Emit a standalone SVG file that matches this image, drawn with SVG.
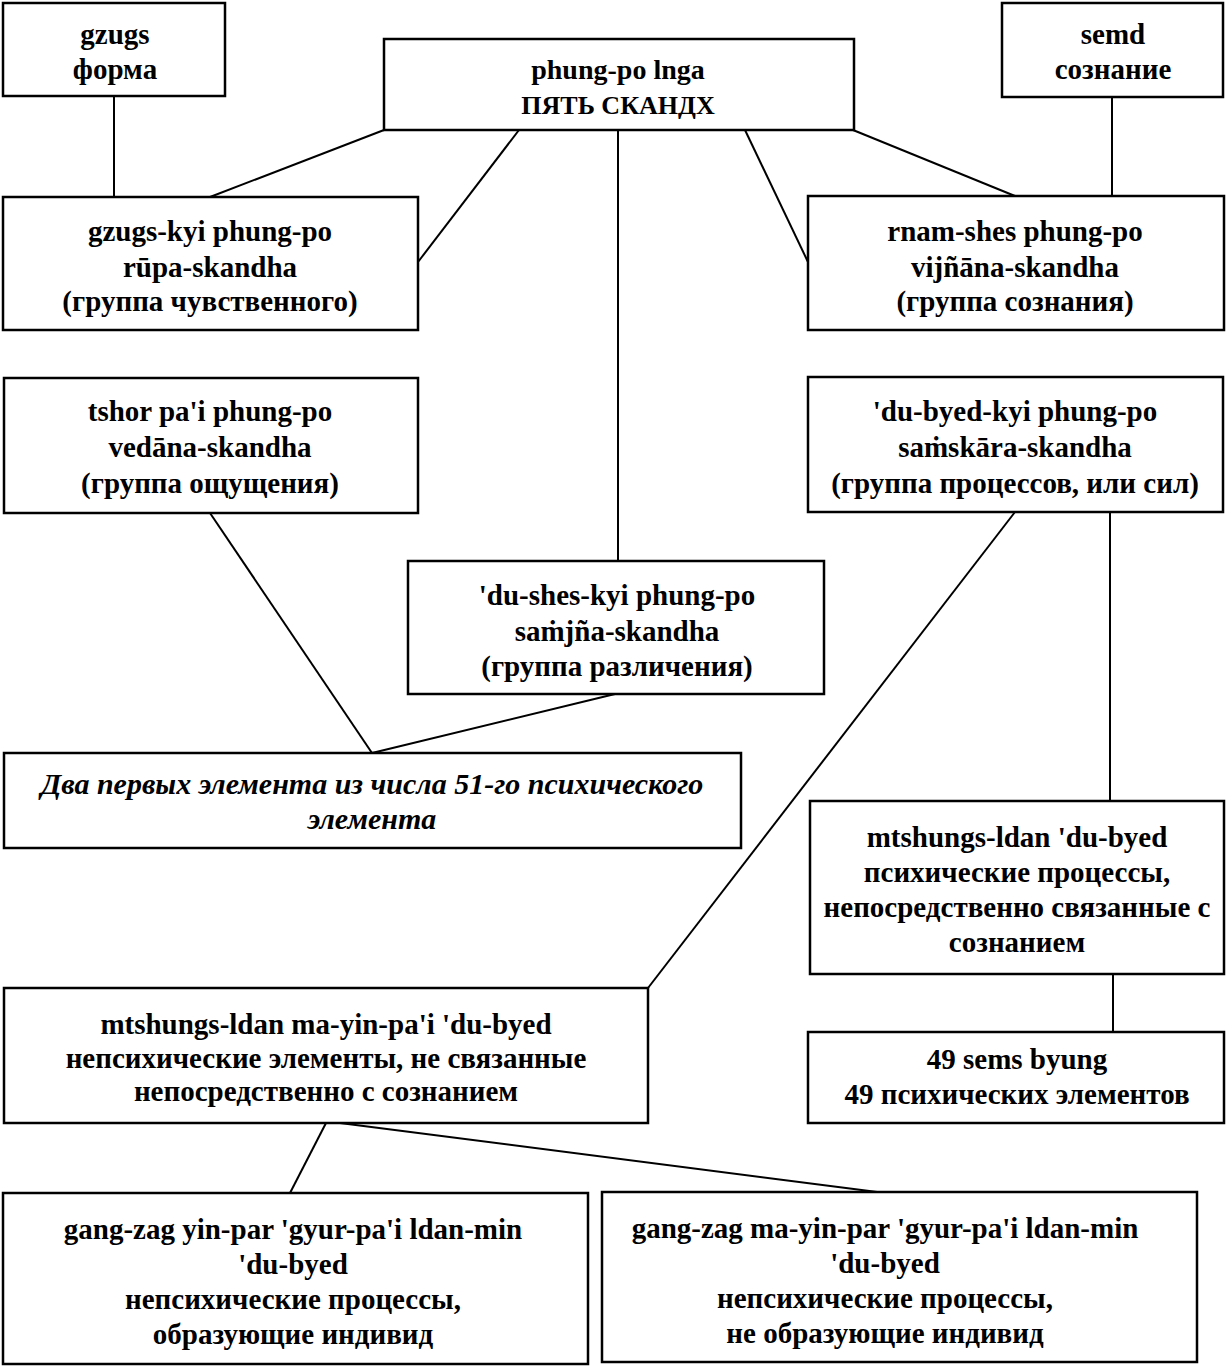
<svg xmlns="http://www.w3.org/2000/svg" width="1228" height="1367" viewBox="0 0 1228 1367">
<style>
.box{fill:#fff;stroke:#000;stroke-width:2.5}
.t{font-family:"Liberation Serif","Times New Roman",serif;font-size:29px;font-weight:bold;fill:#000;text-anchor:middle}
.i{font-style:italic;font-size:30px}
.c line{stroke:#000;stroke-width:2}
</style>
<rect width="1228" height="1367" fill="#fff"/>
<g class="c" id="connectors">
<line x1="114" y1="96" x2="114" y2="197"/>
<line x1="384" y1="130" x2="210" y2="197"/>
<line x1="519" y1="130" x2="418" y2="262"/>
<line x1="618" y1="130" x2="618" y2="561"/>
<line x1="745" y1="130" x2="808" y2="262"/>
<line x1="853" y1="130" x2="1015" y2="196"/>
<line x1="1112" y1="97" x2="1112" y2="196"/>
<line x1="210" y1="513" x2="372" y2="753"/>
<line x1="615" y1="694" x2="372" y2="753"/>
<line x1="1015" y1="512" x2="648" y2="988"/>
<line x1="1110" y1="512" x2="1110" y2="801"/>
<line x1="1113" y1="974" x2="1113" y2="1032"/>
<line x1="326" y1="1123" x2="290" y2="1193"/>
<line x1="340" y1="1123" x2="885" y2="1193"/>
</g>
<g id="gzugs"><rect class="box" x="3" y="3" width="222" height="93"/>
<text class="t" x="115" y="44">gzugs</text><text class="t" x="115" y="79">форма</text></g>
<g id="phungpo"><rect class="box" x="384" y="39" width="470" height="91"/>
<text class="t" x="618" y="79" style="font-size:28px">phung-po lnga</text><text class="t" x="618" y="114" style="font-size:26px">ПЯТЬ СКАНДХ</text></g>
<g id="semd"><rect class="box" x="1002" y="3" width="221" height="94"/>
<text class="t" x="1113" y="44">semd</text><text class="t" x="1113" y="79">сознание</text></g>
<g id="rupa"><rect class="box" x="3" y="197" width="415" height="133"/>
<text class="t" x="210" y="241">gzugs-kyi phung-po</text><text class="t" x="210" y="277">rūpa-skandha</text><text class="t" x="210" y="311">(группа чувственного)</text></g>
<g id="vijnana"><rect class="box" x="808" y="196" width="416" height="134"/>
<text class="t" x="1015" y="241">rnam-shes phung-po</text><text class="t" x="1015" y="277">vijñāna-skandha</text><text class="t" x="1015" y="311">(группа сознания)</text></g>
<g id="vedana"><rect class="box" x="4" y="378" width="414" height="135"/>
<text class="t" x="210" y="421">tshor pa'i phung-po</text><text class="t" x="210" y="457">vedāna-skandha</text><text class="t" x="210" y="493">(группа ощущения)</text></g>
<g id="samskara"><rect class="box" x="808" y="377" width="415" height="135"/>
<text class="t" x="1015" y="421">'du-byed-kyi phung-po</text><text class="t" x="1015" y="457">saṁskāra-skandha</text><text class="t" x="1015" y="493">(группа процессов, или сил)</text></g>
<g id="samjna"><rect class="box" x="408" y="561" width="416" height="133"/>
<text class="t" x="617" y="605">'du-shes-kyi phung-po</text><text class="t" x="617" y="641">saṁjña-skandha</text><text class="t" x="617" y="676">(группа различения)</text></g>
<g id="dva"><rect class="box" x="4" y="753" width="737" height="95"/>
<text class="t i" x="372" y="794">Два первых элемента из числа 51-го психического</text><text class="t i" x="372" y="829">элемента</text></g>
<g id="mtshungs"><rect class="box" x="810" y="801" width="414" height="173"/>
<text class="t" x="1017" y="847">mtshungs-ldan 'du-byed</text><text class="t" x="1017" y="882">психические процессы,</text><text class="t" x="1017" y="917">непосредственно связанные с</text><text class="t" x="1017" y="952">сознанием</text></g>
<g id="mayin"><rect class="box" x="4" y="988" width="644" height="135"/>
<text class="t" x="326" y="1034">mtshungs-ldan ma-yin-pa'i 'du-byed</text><text class="t" x="326" y="1068">непсихические элементы, не связанные</text><text class="t" x="326" y="1101">непосредственно с сознанием</text></g>
<g id="sems49"><rect class="box" x="808" y="1032" width="416" height="91"/>
<text class="t" x="1017" y="1069">49 sems byung</text><text class="t" x="1017" y="1104">49 психических элементов</text></g>
<g id="yinpar"><rect class="box" x="3" y="1193" width="585" height="171"/>
<text class="t" x="293" y="1239">gang-zag yin-par 'gyur-pa'i ldan-min</text><text class="t" x="293" y="1274">'du-byed</text><text class="t" x="293" y="1309">непсихические процессы,</text><text class="t" x="293" y="1344">образующие индивид</text></g>
<g id="mayinpar"><rect class="box" x="602" y="1192" width="595" height="170"/>
<text class="t" x="885" y="1238">gang-zag ma-yin-par 'gyur-pa'i ldan-min</text><text class="t" x="885" y="1273">'du-byed</text><text class="t" x="885" y="1308">непсихические процессы,</text><text class="t" x="885" y="1343">не образующие индивид</text></g>
</svg>
